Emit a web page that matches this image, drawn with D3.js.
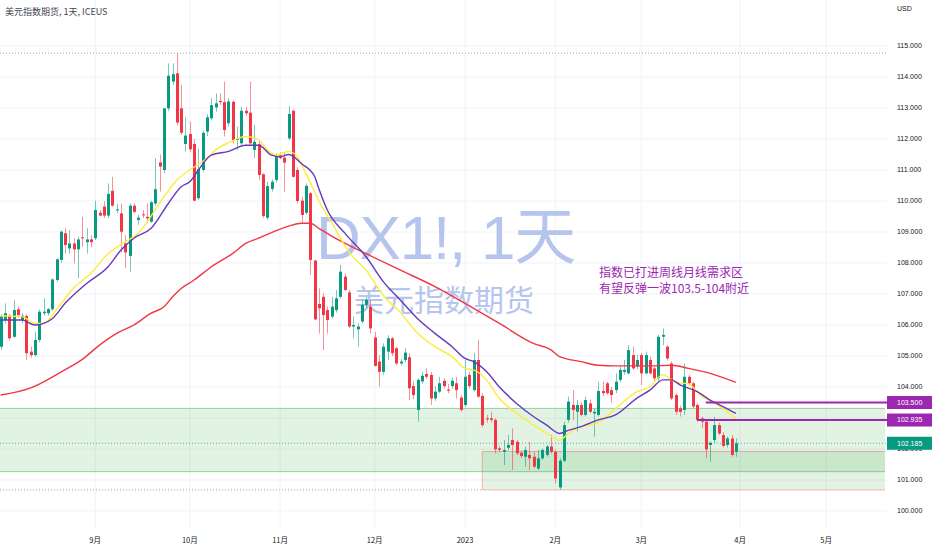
<!DOCTYPE html>
<html><head><meta charset="utf-8">
<script src="https://cdn.jsdelivr.net/npm/d3@7"></script>
<style>
body{margin:0;background:#fff;}
svg{display:block;}
</style></head><body>
<svg id="c" width="932" height="550"></svg>
<script>
// ---- data (bar index 0 = 2022-08-02, daily bars) ----
const opens  = [105.30,106.16,106.30,105.62,106.51,106.16,106.29,105.14,105.03,105.52,106.38,106.38,106.51,107.45,108.10,108.96,108.47,108.63,108.44,108.83,108.67,108.76,108.80,109.62,109.82,109.53,110.33,109.71,109.60,108.63,108.23,109.85,109.39,109.57,109.49,109.33,109.92,111.24,111.00,112.99,113.85,114.12,112.99,111.84,112.16,111.84,110.09,111.00,112.24,112.67,113.02,113.23,113.19,112.51,113.20,111.97,111.86,112.91,112.85,111.65,111.83,110.86,109.46,110.39,110.68,111.47,111.40,112.02,112.91,111.00,110.01,109.62,110.25,108.08,106.68,106.91,106.48,106.27,106.48,106.91,107.56,107.05,105.95,105.86,106.11,106.65,106.59,105.60,104.82,104.49,105.14,105.57,105.25,104.76,104.87,104.96,104.03,103.26,104.18,104.42,104.39,103.63,103.85,104.20,103.92,104.03,104.12,103.66,103.42,104.39,103.90,104.87,103.71,102.99,102.99,102.94,102.02,101.91,102.04,102.29,102.23,101.88,101.75,101.81,101.75,101.37,101.70,101.81,102.08,101.91,100.76,101.62,102.94,103.42,103.20,103.42,103.10,103.47,103.15,103.10,103.87,104.12,103.90,103.90,104.23,104.49,104.44,105.03,104.66,105.03,104.44,104.87,104.60,104.28,105.62,105.30,104.76,103.74,103.31,103.26,104.33,104.12,103.42,102.99,102.88,102.13,102.29,102.77,102.45,102.13,102.34,101.91];
const highs  = [106.35,106.70,106.35,106.81,106.60,106.38,106.35,105.30,105.78,106.50,106.86,106.55,107.50,108.15,109.05,109.12,109.06,108.80,108.85,109.49,109.12,108.90,110.01,109.71,110.00,110.57,110.78,109.90,109.92,108.90,109.92,109.92,109.55,109.70,109.92,110.00,111.38,111.50,113.00,114.44,114.44,114.77,113.74,112.70,112.56,112.00,111.68,112.27,112.80,113.31,113.47,113.47,113.85,113.31,113.25,112.40,113.05,113.04,113.85,112.45,111.97,110.90,110.62,110.70,111.54,111.57,111.54,113.06,112.95,111.10,110.14,110.57,110.30,108.10,107.18,107.02,106.59,106.91,107.13,107.94,107.67,107.13,106.27,106.05,106.81,106.90,106.81,105.78,105.03,105.41,105.67,105.62,105.30,104.90,105.25,105.09,104.18,104.28,104.49,104.60,104.49,104.03,104.33,104.28,104.10,104.30,104.33,103.74,104.87,104.49,105.09,105.52,103.80,103.10,103.20,102.99,102.10,102.29,102.45,102.66,102.30,101.95,102.08,102.23,101.91,101.97,102.02,102.13,102.45,101.97,101.70,102.88,103.69,103.90,103.58,103.50,103.69,103.60,103.30,104.17,104.17,104.17,104.00,104.44,104.66,104.87,105.35,105.30,105.03,105.09,105.14,104.98,104.66,105.68,105.89,105.35,104.82,103.80,103.40,104.76,104.39,104.17,103.47,103.04,102.94,102.24,103.04,102.85,102.55,102.40,102.45,102.34];
const lows   = [105.20,106.05,105.50,105.58,106.25,106.05,104.87,104.95,104.98,105.45,106.30,106.30,106.45,107.40,108.00,108.31,108.31,107.99,107.51,108.53,108.31,108.50,108.74,109.50,109.45,109.44,109.82,109.60,108.34,107.83,107.72,109.60,109.23,109.45,109.28,109.30,109.85,110.30,110.90,112.90,113.74,112.45,112.13,111.59,111.59,110.00,110.03,110.95,112.10,112.60,112.88,113.10,112.08,112.40,111.86,111.65,111.80,112.75,111.81,111.38,110.68,109.45,109.39,110.30,110.60,111.35,110.30,111.97,110.75,109.92,109.28,109.55,107.61,106.15,105.73,105.19,105.73,106.20,106.40,106.85,107.10,105.90,105.57,105.30,106.05,106.55,105.73,104.66,104.01,104.40,104.87,105.00,104.70,104.70,104.80,103.58,103.60,102.88,104.10,104.25,103.42,103.55,103.80,103.95,103.80,103.95,103.63,103.20,103.35,103.95,103.85,103.65,102.70,102.85,102.85,101.86,101.90,101.48,101.95,101.32,101.80,101.70,101.43,101.32,101.38,101.32,101.65,101.75,101.85,100.89,100.68,101.58,102.85,102.94,102.56,103.05,103.05,103.15,102.40,103.05,103.70,103.75,103.50,103.80,104.15,104.40,104.40,104.55,104.58,104.06,104.40,104.40,104.20,104.20,105.35,104.85,103.58,103.10,103.05,103.10,104.05,103.30,102.88,102.67,101.70,101.59,102.20,102.45,102.05,102.05,101.75,101.75];
const closes = [106.27,106.38,105.57,106.48,106.32,106.30,105.09,105.03,105.52,106.43,106.43,106.51,107.47,108.12,109.01,108.58,108.63,108.44,108.76,108.80,108.76,108.67,109.71,109.53,109.53,110.23,109.85,109.73,109.01,108.34,109.85,109.65,109.46,109.55,109.44,109.96,110.38,111.11,112.99,114.04,114.09,112.53,112.20,112.11,111.67,110.01,111.03,112.20,112.70,113.09,113.15,113.19,112.29,113.21,111.95,112.02,112.91,112.83,111.86,111.91,110.84,109.52,110.48,110.62,111.43,111.38,111.24,112.81,110.78,110.00,109.55,110.49,108.10,106.18,106.54,106.32,106.16,106.59,106.86,107.72,107.13,105.95,106.00,105.95,106.65,106.81,105.89,104.68,104.49,105.30,105.57,105.09,104.76,104.82,105.11,103.96,103.74,104.23,104.36,104.33,103.63,103.85,104.12,104.03,103.88,104.20,103.90,103.26,104.33,104.03,104.87,103.69,102.77,102.96,102.94,101.99,101.97,101.97,102.13,102.13,101.86,101.77,101.97,101.70,101.43,101.70,101.97,102.08,101.91,101.05,101.62,102.77,103.53,103.26,103.42,103.10,103.58,103.20,103.20,103.87,103.80,103.80,103.74,104.17,104.55,104.55,105.19,104.60,104.87,104.44,105.03,104.44,104.28,105.62,105.68,104.92,103.63,103.20,103.20,104.33,104.12,103.37,102.94,102.88,101.99,102.20,102.77,102.50,102.10,102.34,101.81,102.185];

const maFastIdx = [0,5,8,10,13,17,21,25,28,32,38,41,44,48,50,53,57,60,62,64,67,69,71,74,77,81,85,89,93,97,101,105,108,110,113,116,120,124,127,130,132,135,139,143,148,151,154,157,160,163,167,171];
const maFastVal = [106.30,106.27,106.05,106.05,106.50,107.20,107.67,108.30,108.60,108.96,110.14,110.68,111.00,111.38,111.65,111.88,112.08,111.97,111.65,111.48,111.60,111.43,110.90,110.00,109.30,108.35,107.77,106.95,106.40,105.73,105.30,104.98,104.60,104.55,104.23,103.63,103.15,102.77,102.50,102.28,102.50,102.72,102.85,103.30,103.85,104.00,104.40,104.15,104.10,103.70,103.40,102.98];
const maMidIdx = [0,5,8,10,12,15,20,25,28,31,35,39,42,44,46,49,53,57,60,63,65,67,70,73,74,76,80,85,89,93,97,101,105,108,110,113,116,120,124,127,130,132,135,139,143,148,151,154,156,158,162,165,168,171];
const maMidVal = [106.16,106.16,106.00,106.05,106.20,106.70,107.34,107.88,108.42,108.80,109.12,109.92,110.46,110.62,111.00,111.48,111.60,111.80,111.80,111.48,111.43,111.50,111.20,110.80,110.40,109.70,108.97,108.20,107.40,106.80,106.20,105.73,105.30,104.92,104.82,104.50,104.00,103.47,103.04,102.77,102.50,102.60,102.72,102.94,103.10,103.64,103.90,104.23,104.23,104.07,103.85,103.58,103.37,103.15];
const maSlowIdx = [0,7,14,19,23,27,31,35,38,40,42,45,49,54,57,60,63,67,70,72,74,77,85,93,101,108,116,124,128,130,135,139,143,151,156,160,165,171];
const maSlowVal = [103.74,103.97,104.48,104.89,105.35,105.73,106.00,106.38,106.59,106.91,107.18,107.45,107.88,108.31,108.63,108.80,108.98,109.19,109.28,109.28,109.12,108.87,108.30,107.77,107.24,106.70,106.05,105.40,105.20,104.98,104.82,104.70,104.68,104.68,104.70,104.60,104.44,104.15];

// price scale ticks, time ticks
const priceTicks = [100,101,102,103,104,105,106,107,108,109,110,111,112,113,114,115];
const monthLabels = ['9月','10月','11月','12月','2023','2月','3月','4月','5月'];
const monthBarIndex = [22,44,65,87,108,129,149,172,192];

// drawings
const zoneLow = [101.27, 100.68];
const zoneHigh = [103.31, 101.92];
const zoneStart = [-5, 112];
const levelPrices = [103.5, 102.935];
const levelStart = [164, 162];
const lastPrice = 102.185;
const noteLines = ['指数已打进周线月线需求区','有望反弹一波103.5-104附近'];
const titleText = '美元指数期货, 1天, ICEUS';
const wmMain = 'DX1!, 1天';
const wmSub = '美元指数期货';

// ---- drawing ----
const W = 932, H = 550, plotR = 887, plotB = 528;
const UP = '#089981', DOWN = '#f23645', PURPLE = '#9c27b0';
const FONT = '"Liberation Sans","Noto Sans CJK SC",sans-serif';
const svg = d3.select('#c').style('font-family', FONT);

const x = d3.scaleLinear().domain([0, 206]).range([0.6, 0.6 + 206 * 4.3]);
const y = d3.scaleLinear().domain([100, 115]).range([511, 46]);

const defs = svg.append('defs');
defs.append('clipPath').attr('id','pc').append('rect')
  .attr('x',0).attr('y',0).attr('width',plotR).attr('height',plotB);
const plot = svg.append('g').attr('clip-path','url(#pc)');

// gridlines
plot.selectAll('.hg').data(priceTicks).join('line')
  .attr('x1',0).attr('x2',plotR).attr('y1',d=>y(d)).attr('y2',d=>y(d))
  .attr('stroke','#f0f3fa').attr('stroke-width',1);
plot.selectAll('.vg').data(monthBarIndex).join('line')
  .attr('x1',d=>x(d)).attr('x2',d=>x(d)).attr('y1',0).attr('y2',plotB)
  .attr('stroke','#f0f3fa').attr('stroke-width',1);

// watermark
plot.append('text').text(wmMain).attr('x',316).attr('y',259)
  .attr('font-size',62).attr('letter-spacing',-1.2).attr('fill','#b6c5ee');
plot.append('text').text(wmSub).attr('x',354).attr('y',311)
  .attr('font-size',30).attr('fill','#b6c5ee')
  .style('font-family','"Noto Sans CJK SC",sans-serif');

// zones
const zones = zoneLow.map((l,i)=>({lo:l, hi:zoneHigh[i], s:zoneStart[i]}));
zones.forEach(z=>{
  const x0 = Math.max(0, x(z.s));
  plot.append('rect').attr('x',x0).attr('y',y(z.hi)).attr('width',plotR-2-x0)
    .attr('height',y(z.lo)-y(z.hi)).attr('fill','rgba(76,175,80,0.16)');
});
(function(){
  const z2 = zones[1], x2 = x(z2.s);
  const c2 = 'rgba(242,54,69,0.35)';
  plot.append('line').attr('x1',x2).attr('x2',plotR-2).attr('y1',y(z2.hi)).attr('y2',y(z2.hi)).attr('stroke',c2);
  plot.append('line').attr('x1',x2).attr('x2',plotR-2).attr('y1',y(z2.lo)).attr('y2',y(z2.lo)).attr('stroke',c2);
  plot.append('line').attr('x1',x2).attr('x2',x2).attr('y1',y(z2.hi)).attr('y2',y(z2.lo)).attr('stroke',c2);
  const z1 = zones[0], c1 = 'rgba(76,175,80,0.55)';
  [z1.hi, z1.lo].forEach(p=>plot.append('line').attr('x1',0).attr('x2',plotR-2)
    .attr('y1',y(p)).attr('y2',y(p)).attr('stroke',c1));
})();

// high / low / last price lines
const hiP = d3.max(highs), loP = d3.min(lows);
plot.append('line').attr('x1',0).attr('x2',plotR).attr('y1',y(hiP)).attr('y2',y(hiP))
  .attr('stroke','#a0a3ab').attr('stroke-dasharray','1,2');
plot.append('line').attr('x1',0).attr('x2',x(zoneStart[1])).attr('y1',y(loP)).attr('y2',y(loP))
  .attr('stroke','#a0a3ab').attr('stroke-dasharray','1,2');
plot.append('line').attr('x1',0).attr('x2',plotR).attr('y1',y(lastPrice)).attr('y2',y(lastPrice))
  .attr('stroke',UP).attr('stroke-opacity',0.7).attr('stroke-dasharray','1,2');

// candles
const bars = opens.map((o,i)=>({i,o,h:highs[i],l:lows[i],c:closes[i]}));
const cg = plot.append('g');
cg.selectAll('line').data(bars).join('line')
  .attr('x1',d=>Math.round(x(d.i))+0.5).attr('x2',d=>Math.round(x(d.i))+0.5)
  .attr('y1',d=>y(d.h)).attr('y2',d=>y(d.l))
  .attr('stroke',d=>d.c>=d.o?UP:DOWN).attr('stroke-opacity',0.55).attr('stroke-width',1);
cg.selectAll('rect').data(bars).join('rect')
  .attr('x',d=>Math.round(x(d.i))-1).attr('width',3)
  .attr('y',d=>y(Math.max(d.o,d.c)))
  .attr('height',d=>Math.max(1,Math.abs(y(d.o)-y(d.c))))
  .attr('fill',d=>d.c>=d.o?UP:DOWN);

// moving averages
const line = d3.line().x(d=>x(d[0])).y(d=>y(d[1])).curve(d3.curveMonotoneX);
[[maSlowIdx,maSlowVal,'#f23645'],[maFastIdx,maFastVal,'#ffeb3b'],[maMidIdx,maMidVal,'#673ab7']]
  .forEach(([ix,vs,col])=>{
    plot.append('path').datum(ix.map((v,k)=>[v,vs[k]])).attr('d',line)
      .attr('fill','none').attr('stroke',col).attr('stroke-width',1.4);
  });

// level lines
levelPrices.forEach((p,k)=>{
  plot.append('line').attr('x1',x(levelStart[k])).attr('x2',plotR)
    .attr('y1',y(p)).attr('y2',y(p)).attr('stroke',PURPLE).attr('stroke-width',2);
});

// annotation
noteLines.forEach((t,k)=>{
  plot.append('text').text(t).attr('x',599).attr('y',277+k*15.5)
    .attr('font-size',12).attr('fill',PURPLE)
    .style('font-family','"Noto Sans CJK SC","Liberation Sans",sans-serif');
});

// title
svg.append('text').text(titleText).attr('x',5).attr('y',15)
  .attr('font-size',9).attr('fill','#434651')
  .style('font-family','"Noto Sans CJK SC",sans-serif');

// price axis: labels fully hidden behind the price boxes are not drawn
const boxPrices = levelPrices.concat([lastPrice]);
const visibleTicks = priceTicks.filter(t=>d3.min(boxPrices,b=>Math.abs(y(t)-y(b)))>4);
const ax = svg.append('g');
ax.selectAll('text').data(visibleTicks).join('text')
  .attr('x',897).attr('y',d=>y(d)).attr('dy','0.35em')
  .attr('font-size',7).attr('fill','#131722')
  .text(d=>d3.format('.3f')(d));
ax.append('text').text('USD').attr('x',897).attr('y',11).attr('font-size',7).attr('fill','#131722');

function priceBox(p, col){
  ax.append('rect').attr('x',887).attr('y',y(p)-6.5).attr('width',45).attr('height',13).attr('fill',col);
  ax.append('text').attr('x',897).attr('y',y(p)).attr('dy','0.35em')
    .attr('font-size',7).attr('fill','#fff').text(d3.format('.3f')(p));
}
levelPrices.forEach(p=>priceBox(p, PURPLE));
priceBox(lastPrice, UP);

// time axis
svg.selectAll('.tl').data(monthBarIndex).join('text')
  .attr('x',d=>x(d)).attr('y',543).attr('text-anchor','middle')
  .attr('font-size',7.5).attr('fill','#131722')
  .style('font-family','"Noto Sans CJK SC","Liberation Sans",sans-serif')
  .text((d,k)=>monthLabels[k]);
</script>
</body></html>
